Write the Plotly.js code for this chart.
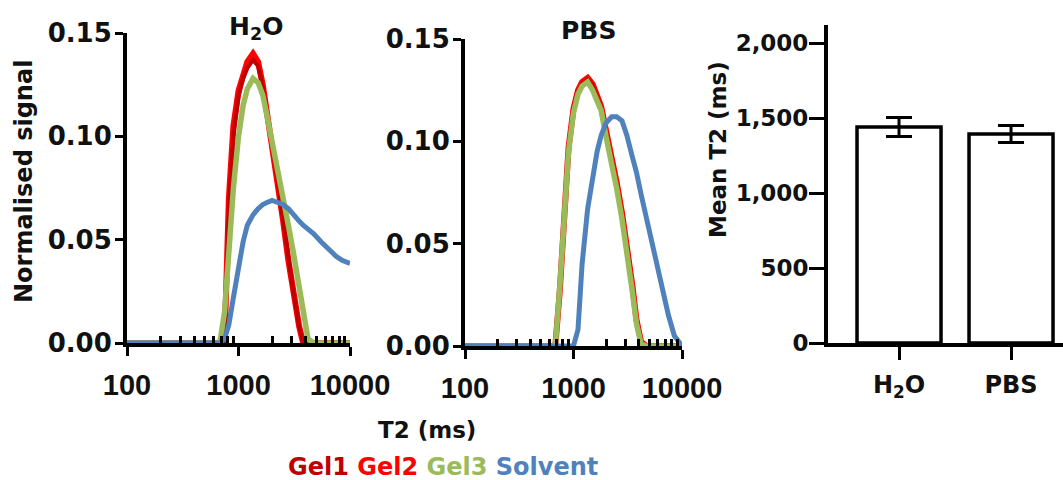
<!DOCTYPE html>
<html><head><meta charset="utf-8">
<script src="https://cdn.plot.ly/plotly-3.0.1.min.js"></script>
<style>html,body{margin:0;padding:0;background:#fff}#c{width:1063px;height:480px}</style>
</head><body><div id="c"></div>
<script>
// T2 grid (ms)
const T2 = [100, 200, 300, 400, 500, 600, 680, 750, 820, 900, 1000, 1100, 1200, 1350, 1500, 1650, 1800, 2000, 2250, 2500, 2800, 3100, 3500, 3800, 4200, 4700, 5500, 6500, 7500, 8500, 10000];

// H2O panel
const h2oGel1    = [0,0,0,0,0,0,0,0,0.065,0.100,0.119,0.128,0.133,0.137,0.134,0.124,0.111,0.097,0.079,0.060,0.041,0.025,0.008,0,0,0,0,0,0,0,0];
const h2oGel2    = [0,0,0,0,0,0,0,0,0.070,0.105,0.122,0.130,0.136,0.140,0.136,0.125,0.112,0.098,0.080,0.060,0.040,0.025,0.008,0,0,0,0,0,0,0,0];
const h2oGel3    = [0,0,0,0,0,0,0,0.015,0.045,0.075,0.100,0.115,0.123,0.128,0.126,0.120,0.110,0.098,0.085,0.072,0.057,0.044,0.027,0.015,0.002,0,0,0,0,0,0];
const h2oSolvent = [0,0,0,0,0,0,0,0.002,0.009,0.022,0.038,0.049,0.057,0.062,0.065,0.067,0.068,0.069,0.068,0.067,0.065,0.062,0.059,0.057,0.055,0.053,0.049,0.045,0.042,0.040,0.0385];

// PBS panel
const pbsGel1    = [0,0,0,0,0,0,0,0.030,0.065,0.096,0.115,0.124,0.128,0.130,0.127,0.121,0.116,0.103,0.091,0.078,0.063,0.048,0.027,0.012,0.001,0,0,0,0,0,0];
const pbsGel2    = [0,0,0,0,0,0,0,0.028,0.065,0.097,0.116,0.125,0.129,0.131,0.128,0.123,0.117,0.105,0.093,0.080,0.065,0.050,0.029,0.013,0.002,0,0,0,0,0,0];
const pbsGel3    = [0,0,0,0,0,0,0,0.030,0.064,0.095,0.114,0.123,0.127,0.129,0.125,0.120,0.115,0.102,0.090,0.077,0.062,0.047,0.026,0.011,0.001,0,0,0,0,0,0];
const pbsSolvent = [0,0,0,0,0,0,0,0,0,0,0,0.008,0.040,0.067,0.083,0.095,0.103,0.109,0.112,0.112,0.110,0.103,0.092,0.085,0.074,0.062,0.047,0.029,0.015,0.005,0];

// Mean T2 bars
const barCats = ['H<sub>2</sub>O', 'PBS'];
const meanT2 = [1440, 1393];
const meanT2Err = [63, 57];

const seriesNames = ['Gel1', 'Gel2', 'Gel3', 'Solvent'];
const colors = {Gel1:'#C00000', Gel2:'#FF0000', Gel3:'#9BBB59', Solvent:'#4F81BD'};

const W = 1063, H = 480;
const px = v => v / W, py = v => 1 - v / H;

function line(x, y, name, xa, ya, w) {
  return {type:'scatter', mode:'lines', x:x, y:y, name:name, xaxis:xa, yaxis:ya,
          line:{color:colors[name], width:w}, showlegend:false, hoverinfo:'skip'};
}

const traces = [
  line(T2, h2oGel2, 'Gel2', 'x', 'y', 6),
  line(T2, h2oGel1, 'Gel1', 'x', 'y', 4),
  line(T2, h2oGel3, 'Gel3', 'x', 'y', 5.5),
  line(T2, h2oSolvent, 'Solvent', 'x', 'y', 5),
  line(T2, pbsGel2, 'Gel2', 'x2', 'y2', 6),
  line(T2, pbsGel1, 'Gel1', 'x2', 'y2', 4),
  line(T2, pbsGel3, 'Gel3', 'x2', 'y2', 5.5),
  line(T2, pbsSolvent, 'Solvent', 'x2', 'y2', 5),
  {type:'bar', x:[0,1], y:meanT2, xaxis:'x3', yaxis:'y3', width:0.75,
   marker:{color:'white', line:{color:'black', width:3.5}},
   error_y:{type:'data', array:meanT2Err, visible:true, color:'black', thickness:3, width:13},
   showlegend:false, hoverinfo:'skip'}
];

const dv = 'DejaVu Sans';
const lib = 'Liberation Sans';
const tickFontY = {family:dv, size:26, color:'#111', weight:'bold'};
const tickFontX = {family:lib, size:29, color:'#111', weight:'bold'};

const minorVals = [200,300,400,500,600,700,800,900,2000,3000,4000,5000,6000,7000,8000,9000];
function logAxis(domain, anchor) {
  return {type:'log', range:[2,4], domain:domain, anchor:anchor,
    tickmode:'array', tickvals:[100,1000,10000], ticktext:['100','1000','10000'],
    ticks:'outside', ticklen:9, tickwidth:3, tickcolor:'black',
    minor:{tickmode:'array', tickvals:minorVals, ticks:'inside', ticklen:7, tickwidth:3, tickcolor:'black'},
    showline:true, linecolor:'black', linewidth:4, showgrid:false, zeroline:false,
    tickfont:tickFontX, ticklabelstandoff:4, fixedrange:true};
}
function sigAxis(domain, anchor) {
  return {range:[0,0.15], domain:domain, anchor:anchor,
    tickmode:'array', tickvals:[0,0.05,0.10,0.15], tickformat:'.2f',
    ticks:'outside', ticklen:8, tickwidth:3, tickcolor:'black',
    showline:true, linecolor:'black', linewidth:4, showgrid:false, zeroline:false,
    tickfont:tickFontY, ticklabelstandoff:-2, fixedrange:true};
}

const layout = {
  width:W, height:H, margin:{l:0,r:0,t:0,b:0},
  paper_bgcolor:'white', plot_bgcolor:'white', showlegend:false,
  xaxis: logAxis([px(127), px(350)], 'y'),
  yaxis: sigAxis([py(343), py(33)], 'x'),
  xaxis2: logAxis([px(465), px(682)], 'y2'),
  yaxis2: sigAxis([py(346), py(39)], 'x2'),
  xaxis3: {domain:[px(828), 1], anchor:'y3', range:[-0.634, 1.464],
    tickmode:'array', tickvals:[0,1], ticktext:barCats,
    ticks:'outside', ticklen:13, tickwidth:3, tickcolor:'black',
    showline:true, linecolor:'black', linewidth:4, showgrid:false, zeroline:false,
    tickfont:{family:dv, size:24, color:'#111', weight:'bold'}, ticklabelstandoff:4, fixedrange:true},
  yaxis3: {domain:[py(343), py(25)], anchor:'x3', range:[0, 2120],
    tickmode:'array', tickvals:[0,500,1000,1500,2000], tickformat:',',
    ticks:'outside', ticklen:15, tickwidth:3, tickcolor:'black',
    showline:true, linecolor:'black', linewidth:4, showgrid:false, zeroline:false,
    tickfont:{family:dv, size:23, color:'#111', weight:'bold'}, ticklabelstandoff:-4, fixedrange:true},
  annotations: [
    {text:'H<sub>2</sub>O', x:px(256), y:py(28), xref:'paper', yref:'paper', showarrow:false,
     xanchor:'center', yanchor:'middle', font:{family:dv, size:25, color:'#111', weight:'bold'}},
    {text:'PBS', x:px(588), y:py(31), xref:'paper', yref:'paper', showarrow:false,
     xanchor:'center', yanchor:'middle', font:{family:dv, size:25, color:'#111', weight:'bold'}},
    {text:'Normalised signal', x:px(24), y:py(182), xref:'paper', yref:'paper', showarrow:false,
     textangle:-90, xanchor:'center', yanchor:'middle', font:{family:dv, size:24, color:'#111', weight:'bold'}},
    {text:'Mean T2 (ms)', x:px(718), y:py(150), xref:'paper', yref:'paper', showarrow:false,
     textangle:-90, xanchor:'center', yanchor:'middle', font:{family:dv, size:23, color:'#111', weight:'bold'}},
    {text:'T2 (ms)', x:px(427), y:py(430), xref:'paper', yref:'paper', showarrow:false,
     xanchor:'center', yanchor:'middle', font:{family:dv, size:23, color:'#111', weight:'bold'}},
    {text: seriesNames.map(n => '<span style="color:' + colors[n] + '">' + n + '</span>').join(' '),
     x:px(443), y:py(467), xref:'paper', yref:'paper', showarrow:false,
     xanchor:'center', yanchor:'middle', font:{family:dv, size:24, weight:'bold'}}
  ]
};

Plotly.newPlot('c', traces, layout, {displayModeBar:false, staticPlot:true});
</script></body></html>
